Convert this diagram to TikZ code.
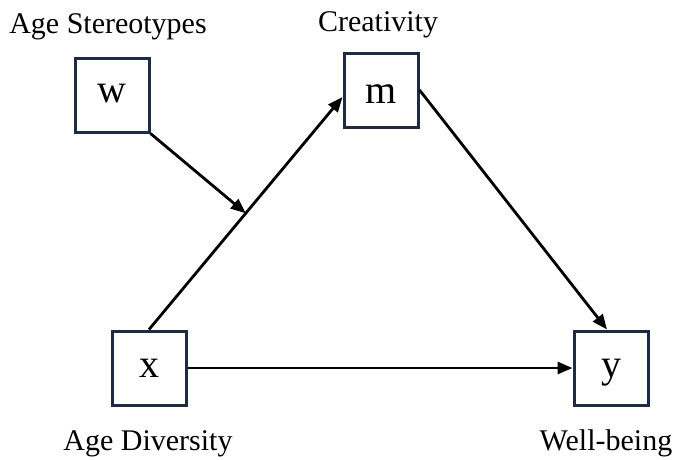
\documentclass[tikz,border=0pt]{standalone}
\usepackage{fontspec}
\setmainfont{Liberation Serif}
\usetikzlibrary{arrows.meta}
\definecolor{boxline}{RGB}{31,42,68}
\begin{document}
\begin{tikzpicture}[x=1pt,y=-1pt,
  varbox/.style={draw=boxline, line width=3pt, fill=white, minimum width=74pt,
    minimum height=74pt, inner sep=0pt, font=\fontsize{40}{42}\selectfont,
    text height=18pt, text depth=0pt},
  caption/.style={anchor=base, inner sep=0pt, font=\fontsize{30}{32}\selectfont},
  path/.style={draw=black, line width=2.8pt, -{Triangle[length=15pt,width=12pt]}}
]
\useasboundingbox (0,0) rectangle (679,459);

% variables
\node[varbox, text height=14pt] (w) at (112,95) {w};
\node[varbox, text height=26pt] (m) at (381,90) {m};
\node[varbox] (x) at (149,368) {x};
\node[varbox] (y) at (611,368) {y};

% variable names
\node[caption] (lw) at (108,33) {Age Stereotypes};
\node[caption] (lm) at (378,31) {Creativity};
\node[caption] (lx) at (148,450) {Age Diversity};
\node[caption] (ly) at (606,450) {Well-being};

% paths
\draw[path] (x.north) -- coordinate[pos=0.5] (mod) ([yshift=-7pt]m.west);
\draw[path] (m.east) -- ([xshift=-4pt]y.north);
\draw[path] (x.east) -- (y.west);
\draw[path] (w.south east) -- (mod);
\end{tikzpicture}
\end{document}
